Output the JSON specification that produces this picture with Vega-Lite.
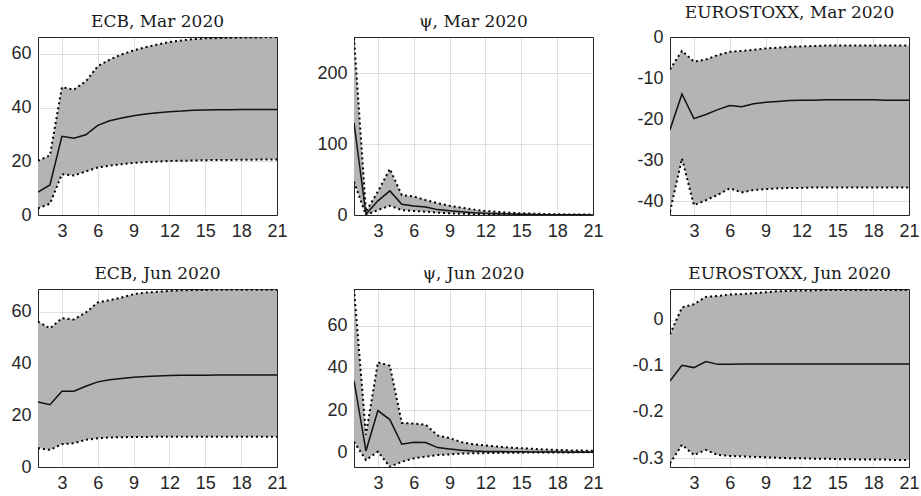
{
  "$schema": "https://vega.github.io/schema/vega-lite/v6.json",
  "background": "white",
  "padding": {"left": 10, "top": 3, "right": 5, "bottom": 5},
  "config": {
    "view": {"stroke": "#262626", "strokeWidth": 1},
    "axis": {
      "grid": true, "gridColor": "#262626", "gridOpacity": 0.15, "gridWidth": 1,
      "domain": false, "ticks": false,
      "labelFont": "Liberation Sans, Arial, Helvetica, sans-serif", "labelFontSize": 18, "labelColor": "#262626",
      "labelPadding": 7, "labelFlush": false, "labelOverlap": false, "zindex": 1, "title": null
    },
    "title": {"font": "DejaVu Serif", "fontSize": 17, "fontWeight": "normal", "color": "#1a1a1a", "offset": 6, "anchor": "middle", "baseline": "alphabetic"}
  },
  "columns": 3,
  "spacing": {"row": 74, "column": 77},
  "bounds": "flush",
  "concat": [
    {
      "title": "ECB, Mar 2020",
      "width": 239, "height": 178,
      "data": {"values": [
        {"h":1,"lo":2.5,"md":8.5,"hi":20.2},{"h":2,"lo":4.2,"md":11.2,"hi":22.2},{"h":3,"lo":15.2,"md":29.3,"hi":47.6},
        {"h":4,"lo":14.7,"md":28.6,"hi":46.7},{"h":5,"lo":16.2,"md":29.9,"hi":49.8},{"h":6,"lo":17.7,"md":33.4,"hi":55.4},
        {"h":7,"lo":18.4,"md":35.1,"hi":57.9},{"h":8,"lo":18.9,"md":36.1,"hi":59.8},{"h":9,"lo":19.4,"md":37.0,"hi":61.3},
        {"h":10,"lo":19.7,"md":37.6,"hi":62.5},{"h":11,"lo":19.9,"md":38.1,"hi":63.5},{"h":12,"lo":20.1,"md":38.5,"hi":64.4},
        {"h":13,"lo":20.2,"md":38.7,"hi":65.0},{"h":14,"lo":20.3,"md":39.0,"hi":65.5},{"h":15,"lo":20.4,"md":39.1,"hi":65.8},
        {"h":16,"lo":20.5,"md":39.2,"hi":65.9},{"h":17,"lo":20.5,"md":39.2,"hi":66.0},{"h":18,"lo":20.6,"md":39.3,"hi":66.1},
        {"h":19,"lo":20.6,"md":39.3,"hi":66.1},{"h":20,"lo":20.7,"md":39.3,"hi":66.2},{"h":21,"lo":20.7,"md":39.3,"hi":66.2}
      ]},
      "encoding": {"x": {"field": "h", "type": "quantitative", "title": null, "scale": {"domain": [1, 21], "nice": false, "zero": false}, "axis": {"values": [3, 6, 9, 12, 15, 18, 21]}}},
      "layer": [
        {"mark": {"type": "area", "color": "#b4b4b4", "opacity": 1, "clip": true},
         "encoding": {"y": {"field": "lo", "type": "quantitative", "title": null, "scale": {"domain": [0, 66.3], "nice": false, "zero": false}, "axis": {"values": [0, 20, 40, 60], "format": "~r", "labelExpr": "replace(datum.label, '−', '-')"}}, "y2": {"field": "hi"}}},
        {"mark": {"type": "line", "color": "black", "strokeWidth": 2, "strokeDash": [2, 3], "clip": true}, "encoding": {"y": {"field": "lo", "type": "quantitative", "title": null}}},
        {"mark": {"type": "line", "color": "black", "strokeWidth": 2, "strokeDash": [2, 3], "clip": true}, "encoding": {"y": {"field": "hi", "type": "quantitative", "title": null}}},
        {"mark": {"type": "line", "color": "#111111", "strokeWidth": 1.5, "clip": true}, "encoding": {"y": {"field": "md", "type": "quantitative", "title": null}}}
      ]
    },
    {
      "title": "ψ, Mar 2020",
      "width": 239, "height": 178,
      "data": {"values": [
        {"h":1,"lo":47,"md":130,"hi":250},{"h":2,"lo":0,"md":1,"hi":5},{"h":3,"lo":7,"md":20,"hi":33},
        {"h":4,"lo":13,"md":34,"hi":65},{"h":5,"lo":7,"md":15,"hi":28},{"h":6,"lo":5.7,"md":12.8,"hi":26},
        {"h":7,"lo":4.7,"md":11.4,"hi":21},{"h":8,"lo":3.3,"md":7.6,"hi":16.6},{"h":9,"lo":2.4,"md":6,"hi":13},
        {"h":10,"lo":1.8,"md":4.7,"hi":10.4},{"h":11,"lo":1.2,"md":3.3,"hi":7.6},{"h":12,"lo":0.8,"md":2.4,"hi":5.7},
        {"h":13,"lo":0.5,"md":1.9,"hi":4.3},{"h":14,"lo":0.3,"md":1.4,"hi":3.3},{"h":15,"lo":0.2,"md":1.0,"hi":2.4},
        {"h":16,"lo":0.1,"md":0.7,"hi":1.9},{"h":17,"lo":0.1,"md":0.5,"hi":1.4},{"h":18,"lo":0.1,"md":0.4,"hi":1.0},
        {"h":19,"lo":0,"md":0.3,"hi":0.8},{"h":20,"lo":0,"md":0.2,"hi":0.6},{"h":21,"lo":0,"md":0.1,"hi":0.5}
      ]},
      "encoding": {"x": {"field": "h", "type": "quantitative", "title": null, "scale": {"domain": [1, 21], "nice": false, "zero": false}, "axis": {"values": [3, 6, 9, 12, 15, 18, 21]}}},
      "layer": [
        {"mark": {"type": "area", "color": "#b4b4b4", "opacity": 1, "clip": true},
         "encoding": {"y": {"field": "lo", "type": "quantitative", "title": null, "scale": {"domain": [0, 251], "nice": false, "zero": false}, "axis": {"values": [0, 100, 200], "format": "~r", "labelExpr": "replace(datum.label, '−', '-')"}}, "y2": {"field": "hi"}}},
        {"mark": {"type": "line", "color": "black", "strokeWidth": 2, "strokeDash": [2, 3], "clip": true}, "encoding": {"y": {"field": "lo", "type": "quantitative", "title": null}}},
        {"mark": {"type": "line", "color": "black", "strokeWidth": 2, "strokeDash": [2, 3], "clip": true}, "encoding": {"y": {"field": "hi", "type": "quantitative", "title": null}}},
        {"mark": {"type": "line", "color": "#111111", "strokeWidth": 1.5, "clip": true}, "encoding": {"y": {"field": "md", "type": "quantitative", "title": null}}}
      ]
    },
    {
      "title": "EUROSTOXX, Mar 2020",
      "width": 239, "height": 178,
      "data": {"values": [
        {"h":1,"lo":-42.6,"md":-22.6,"hi":-7.9},{"h":2,"lo":-29.6,"md":-13.9,"hi":-3.4},{"h":3,"lo":-41.0,"md":-19.9,"hi":-6.0},
        {"h":4,"lo":-39.8,"md":-18.9,"hi":-5.5},{"h":5,"lo":-38.5,"md":-17.7,"hi":-4.4},{"h":6,"lo":-36.9,"md":-16.7,"hi":-3.6},
        {"h":7,"lo":-37.9,"md":-17.0,"hi":-3.4},{"h":8,"lo":-37.3,"md":-16.3,"hi":-3.1},{"h":9,"lo":-37.1,"md":-15.9,"hi":-2.8},
        {"h":10,"lo":-36.9,"md":-15.7,"hi":-2.6},{"h":11,"lo":-36.8,"md":-15.5,"hi":-2.4},{"h":12,"lo":-36.8,"md":-15.4,"hi":-2.3},
        {"h":13,"lo":-36.7,"md":-15.4,"hi":-2.2},{"h":14,"lo":-36.7,"md":-15.3,"hi":-2.1},{"h":15,"lo":-36.7,"md":-15.3,"hi":-2.1},
        {"h":16,"lo":-36.7,"md":-15.3,"hi":-2.1},{"h":17,"lo":-36.7,"md":-15.3,"hi":-2.1},{"h":18,"lo":-36.7,"md":-15.3,"hi":-2.1},
        {"h":19,"lo":-36.7,"md":-15.4,"hi":-2.1},{"h":20,"lo":-36.7,"md":-15.4,"hi":-2.1},{"h":21,"lo":-36.7,"md":-15.4,"hi":-2.1}
      ]},
      "encoding": {"x": {"field": "h", "type": "quantitative", "title": null, "scale": {"domain": [1, 21], "nice": false, "zero": false}, "axis": {"values": [3, 6, 9, 12, 15, 18, 21]}}},
      "layer": [
        {"mark": {"type": "area", "color": "#b4b4b4", "opacity": 1, "clip": true},
         "encoding": {"y": {"field": "lo", "type": "quantitative", "title": null, "scale": {"domain": [-43.4, 0], "nice": false, "zero": false}, "axis": {"values": [-40, -30, -20, -10, 0], "format": "~r", "labelExpr": "replace(datum.label, '−', '-')"}}, "y2": {"field": "hi"}}},
        {"mark": {"type": "line", "color": "black", "strokeWidth": 2, "strokeDash": [2, 3], "clip": true}, "encoding": {"y": {"field": "lo", "type": "quantitative", "title": null}}},
        {"mark": {"type": "line", "color": "black", "strokeWidth": 2, "strokeDash": [2, 3], "clip": true}, "encoding": {"y": {"field": "hi", "type": "quantitative", "title": null}}},
        {"mark": {"type": "line", "color": "#111111", "strokeWidth": 1.5, "clip": true}, "encoding": {"y": {"field": "md", "type": "quantitative", "title": null}}}
      ]
    },
    {
      "title": "ECB, Jun 2020",
      "width": 239, "height": 178,
      "data": {"values": [
        {"h":1,"lo":7.3,"md":25.1,"hi":56.2},{"h":2,"lo":6.6,"md":24.1,"hi":53.6},{"h":3,"lo":8.8,"md":29.3,"hi":57.5},
        {"h":4,"lo":9.2,"md":29.3,"hi":57.0},{"h":5,"lo":10.5,"md":31.2,"hi":59.7},{"h":6,"lo":11.1,"md":32.9,"hi":63.6},
        {"h":7,"lo":11.4,"md":33.7,"hi":64.5},{"h":8,"lo":11.5,"md":34.2,"hi":65.5},{"h":9,"lo":11.6,"md":34.7,"hi":66.8},
        {"h":10,"lo":11.6,"md":35.0,"hi":67.4},{"h":11,"lo":11.7,"md":35.2,"hi":67.7},{"h":12,"lo":11.7,"md":35.4,"hi":68.1},
        {"h":13,"lo":11.7,"md":35.5,"hi":68.3},{"h":14,"lo":11.7,"md":35.5,"hi":68.4},{"h":15,"lo":11.7,"md":35.5,"hi":68.4},
        {"h":16,"lo":11.7,"md":35.6,"hi":68.5},{"h":17,"lo":11.7,"md":35.6,"hi":68.5},{"h":18,"lo":11.7,"md":35.6,"hi":68.5},
        {"h":19,"lo":11.7,"md":35.6,"hi":68.5},{"h":20,"lo":11.7,"md":35.6,"hi":68.5},{"h":21,"lo":11.7,"md":35.6,"hi":68.5}
      ]},
      "encoding": {"x": {"field": "h", "type": "quantitative", "title": null, "scale": {"domain": [1, 21], "nice": false, "zero": false}, "axis": {"values": [3, 6, 9, 12, 15, 18, 21]}}},
      "layer": [
        {"mark": {"type": "area", "color": "#b4b4b4", "opacity": 1, "clip": true},
         "encoding": {"y": {"field": "lo", "type": "quantitative", "title": null, "scale": {"domain": [0, 68.8], "nice": false, "zero": false}, "axis": {"values": [0, 20, 40, 60], "format": "~r", "labelExpr": "replace(datum.label, '−', '-')"}}, "y2": {"field": "hi"}}},
        {"mark": {"type": "line", "color": "black", "strokeWidth": 2, "strokeDash": [2, 3], "clip": true}, "encoding": {"y": {"field": "lo", "type": "quantitative", "title": null}}},
        {"mark": {"type": "line", "color": "black", "strokeWidth": 2, "strokeDash": [2, 3], "clip": true}, "encoding": {"y": {"field": "hi", "type": "quantitative", "title": null}}},
        {"mark": {"type": "line", "color": "#111111", "strokeWidth": 1.5, "clip": true}, "encoding": {"y": {"field": "md", "type": "quantitative", "title": null}}}
      ]
    },
    {
      "title": "ψ, Jun 2020",
      "width": 239, "height": 178,
      "data": {"values": [
        {"h":1,"lo":5,"md":34,"hi":77.4},{"h":2,"lo":-3.7,"md":0.6,"hi":8.3},{"h":3,"lo":0.3,"md":19.8,"hi":42.7},
        {"h":4,"lo":-6.9,"md":15.5,"hi":41.1},{"h":5,"lo":-4.5,"md":3.8,"hi":13.9},{"h":6,"lo":-2.9,"md":4.8,"hi":13.6},
        {"h":7,"lo":-2.1,"md":4.6,"hi":13.1},{"h":8,"lo":-1.3,"md":2.2,"hi":8.0},{"h":9,"lo":-1.0,"md":1.6,"hi":6.7},
        {"h":10,"lo":-0.6,"md":1.0,"hi":4.8},{"h":11,"lo":-0.5,"md":0.6,"hi":3.8},{"h":12,"lo":-0.4,"md":0.4,"hi":3.2},
        {"h":13,"lo":-0.3,"md":0.3,"hi":2.7},{"h":14,"lo":-0.2,"md":0.2,"hi":2.2},{"h":15,"lo":-0.2,"md":0.2,"hi":1.9},
        {"h":16,"lo":-0.1,"md":0.1,"hi":1.6},{"h":17,"lo":-0.1,"md":0.1,"hi":1.3},{"h":18,"lo":-0.1,"md":0.1,"hi":1.1},
        {"h":19,"lo":-0.1,"md":0.05,"hi":0.9},{"h":20,"lo":0,"md":0,"hi":0.8},{"h":21,"lo":0,"md":0,"hi":0.7}
      ]},
      "encoding": {"x": {"field": "h", "type": "quantitative", "title": null, "scale": {"domain": [1, 21], "nice": false, "zero": false}, "axis": {"values": [3, 6, 9, 12, 15, 18, 21]}}},
      "layer": [
        {"mark": {"type": "area", "color": "#b4b4b4", "opacity": 1, "clip": true},
         "encoding": {"y": {"field": "lo", "type": "quantitative", "title": null, "scale": {"domain": [-7, 77.5], "nice": false, "zero": false}, "axis": {"values": [0, 20, 40, 60], "format": "~r", "labelExpr": "replace(datum.label, '−', '-')"}}, "y2": {"field": "hi"}}},
        {"mark": {"type": "line", "color": "black", "strokeWidth": 2, "strokeDash": [2, 3], "clip": true}, "encoding": {"y": {"field": "lo", "type": "quantitative", "title": null}}},
        {"mark": {"type": "line", "color": "black", "strokeWidth": 2, "strokeDash": [2, 3], "clip": true}, "encoding": {"y": {"field": "hi", "type": "quantitative", "title": null}}},
        {"mark": {"type": "line", "color": "#111111", "strokeWidth": 1.5, "clip": true}, "encoding": {"y": {"field": "md", "type": "quantitative", "title": null}}}
      ]
    },
    {
      "title": "EUROSTOXX, Jun 2020",
      "width": 239, "height": 178,
      "data": {"values": [
        {"h":1,"lo":-0.311,"md":-0.133,"hi":-0.032},{"h":2,"lo":-0.271,"md":-0.099,"hi":0.026},{"h":3,"lo":-0.293,"md":-0.104,"hi":0.033},
        {"h":4,"lo":-0.282,"md":-0.091,"hi":0.049},{"h":5,"lo":-0.293,"md":-0.097,"hi":0.051},{"h":6,"lo":-0.295,"md":-0.097,"hi":0.054},
        {"h":7,"lo":-0.296,"md":-0.096,"hi":0.055},{"h":8,"lo":-0.297,"md":-0.096,"hi":0.057},{"h":9,"lo":-0.298,"md":-0.096,"hi":0.059},
        {"h":10,"lo":-0.299,"md":-0.096,"hi":0.061},{"h":11,"lo":-0.300,"md":-0.096,"hi":0.062},{"h":12,"lo":-0.300,"md":-0.096,"hi":0.063},
        {"h":13,"lo":-0.301,"md":-0.096,"hi":0.063},{"h":14,"lo":-0.301,"md":-0.096,"hi":0.064},{"h":15,"lo":-0.302,"md":-0.096,"hi":0.064},
        {"h":16,"lo":-0.302,"md":-0.096,"hi":0.064},{"h":17,"lo":-0.303,"md":-0.096,"hi":0.064},{"h":18,"lo":-0.303,"md":-0.096,"hi":0.064},
        {"h":19,"lo":-0.303,"md":-0.096,"hi":0.064},{"h":20,"lo":-0.304,"md":-0.096,"hi":0.064},{"h":21,"lo":-0.304,"md":-0.096,"hi":0.064}
      ]},
      "encoding": {"x": {"field": "h", "type": "quantitative", "title": null, "scale": {"domain": [1, 21], "nice": false, "zero": false}, "axis": {"values": [3, 6, 9, 12, 15, 18, 21]}}},
      "layer": [
        {"mark": {"type": "area", "color": "#b4b4b4", "opacity": 1, "clip": true},
         "encoding": {"y": {"field": "lo", "type": "quantitative", "title": null, "scale": {"domain": [-0.319, 0.066], "nice": false, "zero": false}, "axis": {"values": [-0.3, -0.2, -0.1, 0], "format": "~r", "labelExpr": "replace(datum.label, '−', '-')"}}, "y2": {"field": "hi"}}},
        {"mark": {"type": "line", "color": "black", "strokeWidth": 2, "strokeDash": [2, 3], "clip": true}, "encoding": {"y": {"field": "lo", "type": "quantitative", "title": null}}},
        {"mark": {"type": "line", "color": "black", "strokeWidth": 2, "strokeDash": [2, 3], "clip": true}, "encoding": {"y": {"field": "hi", "type": "quantitative", "title": null}}},
        {"mark": {"type": "line", "color": "#111111", "strokeWidth": 1.5, "clip": true}, "encoding": {"y": {"field": "md", "type": "quantitative", "title": null}}}
      ]
    }
  ]
}
